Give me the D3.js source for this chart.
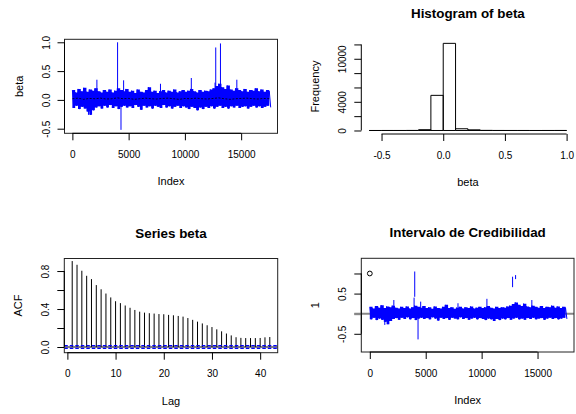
<!DOCTYPE html>
<html>
<head>
<meta charset="utf-8">
<script src="https://cdn.jsdelivr.net/npm/d3@7"></script>
<style>
  body { margin: 0; background: #fff; }
  svg { font-family: "Liberation Sans", Arial, sans-serif; }
</style>
</head>
<body>
<div id="chart"></div>
<script>
// ---- data ----
const traceStep = 250; // trace envelope sampled every 250 iterations
const traceHi = [0.17, 0.13, 0.19, 0.15, 0.21, 0.14, 0.18, 0.16, 0.2, 0.15,
  0.13, 0.17, 0.14, 0.18, 0.13, 0.16, 0.2, 0.17, 0.15, 0.19,
  0.14, 0.16, 0.12, 0.18, 0.14, 0.13, 0.17, 0.22, 0.14, 0.16,
  0.12, 0.15, 0.17, 0.13, 0.16, 0.14, 0.18, 0.13, 0.15, 0.17,
  0.14, 0.16, 0.19, 0.15, 0.13, 0.17, 0.14, 0.16, 0.15, 0.18,
  0.2, 0.24, 0.28, 0.22, 0.19, 0.25, 0.18, 0.16, 0.2, 0.17,
  0.15, 0.19, 0.14, 0.17, 0.16, 0.2, 0.15, 0.18, 0.14, 0.17, 0.15];
const traceLo = [-0.14, -0.1, -0.16, -0.12, -0.15, -0.2, -0.26, -0.18, -0.13, -0.11,
  -0.15, -0.1, -0.13, -0.09, -0.14, -0.11, -0.16, -0.12, -0.1, -0.13,
  -0.11, -0.14, -0.09, -0.12, -0.17, -0.1, -0.13, -0.11, -0.15, -0.1,
  -0.12, -0.14, -0.09, -0.13, -0.11, -0.15, -0.12, -0.1, -0.14, -0.11,
  -0.13, -0.16, -0.12, -0.14, -0.18, -0.13, -0.16, -0.12, -0.14, -0.11,
  -0.15, -0.12, -0.1, -0.14, -0.12, -0.15, -0.11, -0.13, -0.1, -0.14,
  -0.12, -0.11, -0.15, -0.12, -0.1, -0.13, -0.11, -0.14, -0.12, -0.1, -0.13];
const midStep = 500;
const traceMid = [0.02, 0.03, 0.01, 0.025, 0.02, 0.03, 0.015, 0.02, 0.035, 0.02,
  0.025, 0.01, 0.02, 0.03, 0.02, 0.015, 0.025, 0.03, 0.02, 0.01,
  0.025, 0.02, 0.03, 0.02, 0.015, 0.025, 0.035, 0.02, 0.01, 0.02,
  0.025, 0.03, 0.02, 0.015, 0.025, 0.02];
// [iteration, value]
const traceSpikes = [[1430, -0.26], [2180, 0.35], [4018, 1.0], [4321, -0.52], [4554, 0.34],
  [7830, 0.28], [10570, 0.38], [12680, 0.3], [12741, 0.91], [13161, 0.98], [14616, 0.35]];

const histBreaks = [-0.6, -0.5, -0.4, -0.3, -0.2, -0.1, 0, 0.1, 0.2, 0.3, 0.4, 0.5, 0.6, 0.7, 0.8, 0.9, 1.0];
const histCounts = [0, 1, 2, 8, 110, 4900, 12150, 240, 90, 15, 3, 1, 1, 0, 1, 3];

const acfLags = [1, 2, 3, 4, 5, 6, 7, 8, 9, 10, 11, 12, 13, 14, 15, 16, 17, 18, 19, 20, 21,
  22, 23, 24, 25, 26, 27, 28, 29, 30, 31, 32, 33, 34, 35, 36, 37, 38, 39, 40, 41, 42];
const acfValues = [0.905, 0.866, 0.803, 0.75, 0.715, 0.652, 0.608, 0.563, 0.522, 0.482, 0.462,
  0.437, 0.413, 0.39, 0.372, 0.362, 0.356, 0.352, 0.347, 0.345, 0.338,
  0.334, 0.327, 0.32, 0.305, 0.286, 0.267, 0.248, 0.229, 0.21, 0.186,
  0.165, 0.142, 0.122, 0.103, 0.096, 0.094, 0.094, 0.094, 0.095, 0.102, 0.105];
const acfCI = 0.0148;

// [iteration, from, to]
const credSegments = [[1340, -0.05, -0.28], [2150, 0.05, 0.34], [3960, 0.05, 0.4], [4018, 0.42, 1.05],
  [4314, -0.05, -0.64], [4550, 0.05, 0.3], [7886, 0.05, 0.26], [10473, 0.05, 0.37],
  [12768, 0.66, 0.92], [13036, 0.86, 0.96], [14490, 0.05, 0.34]];
const credPoint = [1, 1];

const indexTicks = [0, 5000, 10000, 15000];
const betaTicks = [-0.5, 0, 0.5, 1];
const histXTicks = [-0.5, 0, 0.5, 1];
const histYTicks = [0, 2000, 4000, 6000, 8000, 10000, 12000];
const histYLabels = [0, 4000, 10000];
const acfXTicks = [0, 10, 20, 30, 40];
const acfYTicks = [0, 0.2, 0.4, 0.6, 0.8];
const acfYLabels = [0, 0.4, 0.8];
const credYTicks = [-0.5, 0, 0.5, 1];
const credYLabels = [-0.5, 0.5];

// ---- drawing ----
const W = 576, H = 414;
const svg = d3.select("#chart").append("svg").attr("width", W).attr("height", H);
const f1 = (d) => d.toFixed(1);
const f0 = (d) => String(d);

function makePanel(box, xDom, yDom, id) {
  const x = d3.scaleLinear().domain(xDom).range([box.left, box.right]);
  const y = d3.scaleLinear().domain(yDom).range([box.bottom, box.top]);
  svg.append("clipPath").attr("id", id).append("rect")
    .attr("x", box.left).attr("y", box.top)
    .attr("width", box.right - box.left).attr("height", box.bottom - box.top);
  return { box, x, y, clip: `url(#${id})` };
}

function axisBottom(p, ticks, labels, fmt) {
  const ax = svg.append("g")
    .attr("transform", `translate(0,${p.box.bottom})`)
    .attr("font-size", 11).attr("font-family", null)
    .call(d3.axisBottom(p.x).tickValues(ticks).tickSize(7)
      .tickFormat((d) => (labels.includes(d) ? fmt(d) : "")));
  ax.select(".domain").remove();
  ax.append("line")
    .attr("x1", p.x(ticks[0])).attr("x2", p.x(ticks[ticks.length - 1]))
    .attr("stroke", "#000");
  ax.selectAll("text").attr("y", 24.7).attr("dy", 0).attr("fill", "#000");
}

function axisLeft(p, ticks, labels, fmt) {
  const ax = svg.append("g")
    .attr("transform", `translate(${p.box.left},0)`)
    .attr("font-size", 11).attr("font-family", null)
    .call(d3.axisLeft(p.y).tickValues(ticks).tickSize(7)
      .tickFormat((d) => (labels.includes(d) ? fmt(d) : "")));
  ax.select(".domain").remove();
  ax.append("line")
    .attr("y1", p.y(ticks[0])).attr("y2", p.y(ticks[ticks.length - 1]))
    .attr("stroke", "#000");
  ax.selectAll("text")
    .attr("transform", "rotate(-90)")
    .attr("x", 0).attr("y", -15).attr("dy", 0)
    .attr("text-anchor", "middle").attr("fill", "#000");
  return ax;
}

function frame(p) {
  svg.append("rect")
    .attr("x", p.box.left).attr("y", p.box.top)
    .attr("width", p.box.right - p.box.left).attr("height", p.box.bottom - p.box.top)
    .attr("fill", "none").attr("stroke", "#222");
}

function labels(p, title, xlab, ylab) {
  const cx = (p.box.left + p.box.right) / 2;
  const cy = (p.box.top + p.box.bottom) / 2;
  if (title) {
    svg.append("text").attr("x", cx).attr("y", p.box.top - 21)
      .attr("text-anchor", "middle").attr("font-size", 13.4)
      .attr("font-weight", "bold").text(title);
  }
  svg.append("text").attr("x", cx).attr("y", p.box.bottom + 52)
    .attr("text-anchor", "middle").attr("font-size", 11).text(xlab);
  svg.append("text")
    .attr("transform", `translate(${p.box.left - 42},${cy}) rotate(-90)`)
    .attr("text-anchor", "middle").attr("font-size", 11).text(ylab);
}

// dense MCMC trace: solid envelope plus a zigzag through it for ragged edges
function drawTrace(g, p) {
  const area = d3.area()
    .curve(d3.curveStepAfter)
    .x((d, i) => p.x(i * traceStep))
    .y0((d, i) => p.y(traceLo[i]))
    .y1((d) => p.y(d));
  g.append("path").attr("d", area(traceHi)).attr("fill", "#0000ff");

  const pts = [];
  traceHi.forEach((v, i) => {
    pts.push([i * traceStep, v]);
    pts.push([i * traceStep + traceStep / 2, traceLo[i]]);
  });
  g.append("path")
    .attr("d", d3.line().x((d) => p.x(d[0])).y((d) => p.y(d[1]))(pts))
    .attr("fill", "none").attr("stroke", "#0000ff").attr("stroke-width", 1);
}

// panel 1: trace
const p1 = makePanel({ left: 64.5, right: 277.5, top: 39.3, bottom: 133.3 }, [-700, 18230], [-0.58, 1.052], "c1");
const g1 = svg.append("g").attr("clip-path", p1.clip);
drawTrace(g1, p1);
g1.selectAll(".spike").data(traceSpikes).join("line")
  .attr("x1", (d) => p1.x(d[0])).attr("x2", (d) => p1.x(d[0]))
  .attr("y1", p1.y(0.02)).attr("y2", (d) => p1.y(d[1]))
  .attr("stroke", "#0000ff").attr("stroke-width", 1);
g1.append("path")
  .attr("d", d3.line().x((d, i) => p1.x(i * midStep)).y((d) => p1.y(d))(traceMid))
  .attr("fill", "none").attr("stroke", "#000").attr("stroke-width", 0.8)
  .attr("stroke-dasharray", "2,1.5");
frame(p1);
axisBottom(p1, indexTicks, indexTicks, f0);
axisLeft(p1, betaTicks, betaTicks, f1);
labels(p1, null, "Index", "beta");

// panel 2: histogram (bins as closed paths so empty bins still draw their base)
const p2 = makePanel({ left: 361.3, right: 574.5, top: 39.2, bottom: 134 }, [-0.664, 1.064], [-490, 12730], "c2");
svg.append("g").selectAll("path").data(histCounts).join("path")
  .attr("d", (d, i) => {
    const x0 = p2.x(histBreaks[i]), x1 = p2.x(histBreaks[i + 1]);
    const y0 = p2.y(0), y1 = p2.y(d);
    return `M${x0},${y0}V${y1}H${x1}V${y0}Z`;
  })
  .attr("fill", "none").attr("stroke", "#000");
axisBottom(p2, histXTicks, histXTicks, f1);
axisLeft(p2, histYTicks, histYLabels, f0);
labels(p2, "Histogram of beta", "beta", "Frequency");

// panel 3: ACF
const p3 = makePanel({ left: 64.3, right: 277.7, top: 258.5, bottom: 352.7 }, [-0.64, 43.64], [-0.06, 0.932], "c3");
const g3 = svg.append("g").attr("clip-path", p3.clip);
g3.append("line").attr("x1", p3.box.left).attr("x2", p3.box.right)
  .attr("y1", p3.y(0)).attr("y2", p3.y(0)).attr("stroke", "#000");
g3.selectAll(".acf").data(acfValues).join("line")
  .attr("x1", (d, i) => p3.x(acfLags[i])).attr("x2", (d, i) => p3.x(acfLags[i]))
  .attr("y1", p3.y(0)).attr("y2", (d) => p3.y(d))
  .attr("stroke", "#000");
[acfCI, -acfCI].forEach((c) => {
  g3.append("line").attr("x1", p3.box.left).attr("x2", p3.box.right)
    .attr("y1", p3.y(c)).attr("y2", p3.y(c))
    .attr("stroke", "#0000ff").attr("stroke-width", 1.2).attr("stroke-dasharray", "3.5,2");
});
frame(p3);
axisBottom(p3, acfXTicks, acfXTicks, f0);
axisLeft(p3, acfYTicks, acfYLabels, f1);
labels(p3, "Series beta", "Lag", "ACF");

// panel 4: credibility interval
const p4 = makePanel({ left: 361.3, right: 574, top: 258.3, bottom: 352 }, [-760, 18260], [-0.953, 1.378], "c4");
svg.append("line").attr("x1", p4.box.left - 7).attr("x2", p4.box.right)
  .attr("y1", p4.y(0)).attr("y2", p4.y(0))
  .attr("stroke", "#888").attr("stroke-width", 2);
const g4 = svg.append("g").attr("clip-path", p4.clip);
drawTrace(g4, p4);
g4.selectAll(".seg").data(credSegments).join("line")
  .attr("x1", (d) => p4.x(d[0])).attr("x2", (d) => p4.x(d[0]))
  .attr("y1", (d) => p4.y(d[1])).attr("y2", (d) => p4.y(d[2]))
  .attr("stroke", "#0000ff").attr("stroke-width", 1);
g4.append("circle").attr("cx", p4.x(credPoint[0])).attr("cy", p4.y(credPoint[1]))
  .attr("r", 2.4).attr("fill", "none").attr("stroke", "#000");
frame(p4);
axisBottom(p4, indexTicks, indexTicks, f0);
const ax4 = axisLeft(p4, credYTicks, credYLabels, f1);
ax4.selectAll(".tick line").filter((d) => d === 0).attr("stroke", "#888").attr("stroke-width", 2);
labels(p4, "Intervalo de Credibilidad", "Index", "1");
</script>
</body>
</html>
